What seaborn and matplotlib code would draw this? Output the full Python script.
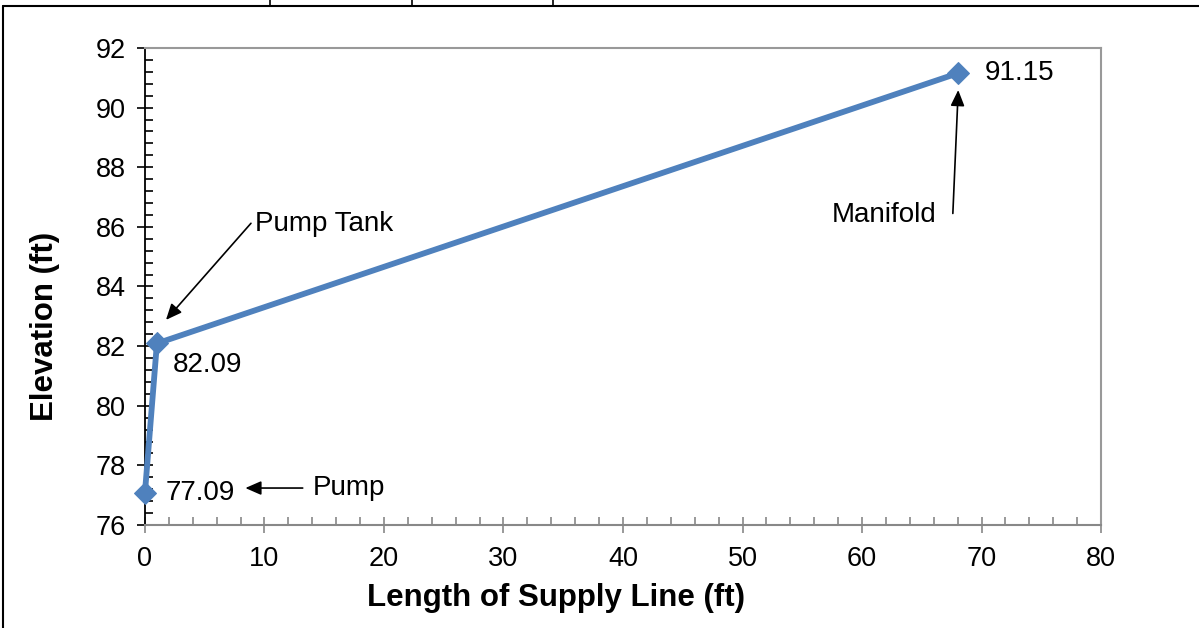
import matplotlib
matplotlib.use("Agg")
import matplotlib.pyplot as plt
from matplotlib.lines import Line2D
from matplotlib.ticker import MultipleLocator
import seaborn as sns
import pandas as pd

# Data
length_ft = [0, 1, 68]
elevation_ft = [77.09, 82.09, 91.15]
value_labels = ["77.09", "82.09", "91.15"]
x_ticks = [0, 10, 20, 30, 40, 50, 60, 70, 80]
y_ticks = [76, 78, 80, 82, 84, 86, 88, 90, 92]

sns.set_theme(style="ticks")
plt.rcParams["font.family"] = ["Liberation Sans", "DejaVu Sans"]
plt.rcParams["text.color"] = "black"
plt.rcParams["axes.labelcolor"] = "black"

df = pd.DataFrame({"Length": length_ft, "Elevation": elevation_ft})

fig = plt.figure(figsize=(11.99, 6.28), dpi=100)
ax = fig.add_axes([0.1209, 0.1640, 0.9183 - 0.1209, 0.9236 - 0.1640])

blue = "#4F81BD"
sns.lineplot(data=df, x="Length", y="Elevation", sort=False, ax=ax,
             color=blue, linewidth=4.2, marker="D", markersize=11,
             markeredgecolor=blue, markerfacecolor=blue, clip_on=False, zorder=5)

ax.set_xlim(0, 80)
ax.set_ylim(76, 92)
ax.set_xticks(x_ticks)
ax.set_yticks(y_ticks)
ax.xaxis.set_minor_locator(MultipleLocator(2))
ax.yaxis.set_minor_locator(MultipleLocator(0.4))

ax.tick_params(axis="both", which="major", labelsize=19.5, direction="inout",
               length=12, width=1.2)
ax.tick_params(axis="y", which="major", pad=8)
ax.tick_params(axis="x", which="major", pad=9)
ax.tick_params(axis="both", which="minor", direction="in", length=6, width=1.2)
ax.tick_params(axis="y", which="both", colors="black", labelcolor="black")
ax.tick_params(axis="x", which="both", colors="#888888", labelcolor="black")

for s in ["top", "right"]:
    ax.spines[s].set_visible(True)
    ax.spines[s].set_color("#999999")
    ax.spines[s].set_linewidth(1.5)
ax.spines["left"].set_color("black")
ax.spines["left"].set_linewidth(1.3)
ax.spines["bottom"].set_color("#888888")
ax.spines["bottom"].set_linewidth(1.5)

ax.set_xlabel("Length of Supply Line (ft)", fontsize=22.5, fontweight="bold", va="center")
ax.set_ylabel("Elevation (ft)", fontsize=22.5, fontweight="bold", va="center")
ax.xaxis.set_label_coords(0.43, -0.153)
ax.yaxis.set_label_coords(-0.1046, 0.417)

# Value labels
ax.text(1.75, 77.09, value_labels[0], fontsize=20, ha="left", va="center")
ax.text(2.3, 81.37, value_labels[1], fontsize=20, ha="left", va="center")
ax.text(70.3, 91.15, value_labels[2], fontsize=20, ha="left", va="center")

arrow = dict(arrowstyle="-|>,head_length=0.8,head_width=0.35", color="black", lw=1.2,
             shrinkA=0, shrinkB=0)
ax.annotate("", xy=(8.4, 77.24), xytext=(13.2, 77.24), arrowprops=arrow)
ax.text(14.0, 77.24, "Pump", fontsize=20, ha="left", va="center")
ax.annotate("", xy=(1.76, 82.88), xytext=(8.87, 86.12), arrowprops=arrow)
ax.text(9.2, 86.1, "Pump Tank", fontsize=20, ha="left", va="center")
ax.annotate("", xy=(68.05, 90.59), xytext=(67.6, 86.45), arrowprops=arrow)
ax.text(66.2, 86.4, "Manifold", fontsize=20, ha="right", va="center")

# page frame lines
fig.add_artist(Line2D([3 / 1199, 3 / 1199], [0, 1 - 6 / 628], transform=fig.transFigure,
                      color="black", lw=1.5))
fig.add_artist(Line2D([3 / 1199, 1], [1 - 6 / 628, 1 - 6 / 628], transform=fig.transFigure,
                      color="black", lw=1.5))
for px in [270, 412, 553]:
    fig.add_artist(Line2D([px / 1199, px / 1199], [1 - 6 / 628, 1], transform=fig.transFigure,
                          color="black", lw=1.2))

fig.savefig("out.png", dpi=100)
